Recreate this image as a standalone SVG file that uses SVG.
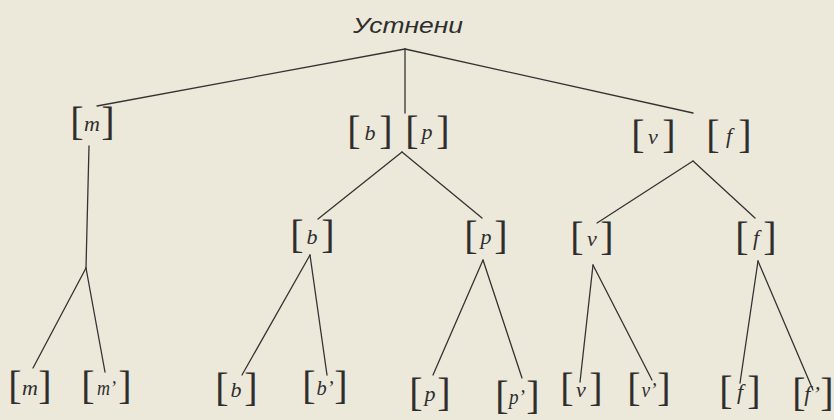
<svg xmlns="http://www.w3.org/2000/svg" width="834" height="420" viewBox="0 0 834 420">
<style>
.br{font-family:"Liberation Serif","Times New Roman",serif;font-size:40px;fill:#2e2e2e;text-anchor:middle}
.lt{font-family:"Liberation Serif","Times New Roman",serif;font-style:italic;font-size:22px;fill:#2e2e2e;text-anchor:middle}
.ti{font-family:"Liberation Sans",Arial,sans-serif;font-style:italic;font-size:22px;fill:#2e2e2e}
.cn line{stroke:#333;stroke-width:1.3;stroke-linecap:round}
</style>
<rect width="834" height="420" fill="#ece8da"/>
<g id="connectors" class="cn">
<line x1="405" y1="49" x2="97" y2="106"/>
<line x1="405" y1="49" x2="405" y2="113"/>
<line x1="405" y1="49" x2="693" y2="113"/>
<line x1="89" y1="146" x2="86" y2="268"/>
<line x1="86" y1="268" x2="33" y2="368"/>
<line x1="86" y1="268" x2="105" y2="372"/>
<line x1="402" y1="152" x2="318" y2="219"/>
<line x1="402" y1="152" x2="482" y2="218"/>
<line x1="693" y1="161" x2="597" y2="223"/>
<line x1="693" y1="161" x2="755" y2="218"/>
<line x1="310" y1="255" x2="242" y2="375"/>
<line x1="310" y1="255" x2="327" y2="375"/>
<line x1="483" y1="260" x2="433" y2="375"/>
<line x1="483" y1="260" x2="522" y2="378"/>
<line x1="593" y1="265" x2="580" y2="382"/>
<line x1="593" y1="265" x2="652" y2="380"/>
<line x1="758" y1="261" x2="740" y2="383"/>
<line x1="758" y1="261" x2="813" y2="390"/>
</g>
<g id="root"><text class="ti" x="353" y="33" textLength="110" lengthAdjust="spacingAndGlyphs">Устнени</text></g>
<g id="n1-m"><text class="br" x="77" y="135">[</text><text class="br" x="108" y="135">]</text><text class="lt" x="92" y="131">m</text></g>
<g id="n1-b"><text class="br" x="354" y="144">[</text><text class="br" x="386" y="144">]</text><text class="lt" x="370" y="140">b</text></g>
<g id="n1-p"><text class="br" x="412" y="144">[</text><text class="br" x="443" y="144">]</text><text class="lt" x="427" y="139">p</text></g>
<g id="n1-v"><text class="br" x="638" y="148">[</text><text class="br" x="669" y="148">]</text><text class="lt" x="653" y="144">v</text></g>
<g id="n1-f"><text class="br" x="713" y="148">[</text><text class="br" x="745" y="148">]</text><text class="lt" x="729" y="143">f</text></g>
<g id="n2-b"><text class="br" x="297" y="248">[</text><text class="br" x="328" y="248">]</text><text class="lt" x="312" y="244">b</text></g>
<g id="n2-p"><text class="br" x="471" y="249">[</text><text class="br" x="501" y="249">]</text><text class="lt" x="486" y="244">p</text></g>
<g id="n2-v"><text class="br" x="577" y="250">[</text><text class="br" x="607" y="250">]</text><text class="lt" x="592" y="246">v</text></g>
<g id="n2-f"><text class="br" x="742" y="250">[</text><text class="br" x="770" y="250">]</text><text class="lt" x="756" y="245">f</text></g>
<g id="n3-m"><text class="br" x="15" y="399">[</text><text class="br" x="45" y="399">]</text><text class="lt" x="30" y="395">m</text></g>
<g id="n3-m2"><text class="br" x="88" y="399">[</text><text class="br" x="125" y="399">]</text><text class="lt" x="106.5" y="395" textLength="19" lengthAdjust="spacingAndGlyphs">m’</text></g>
<g id="n3-b"><text class="br" x="222" y="401">[</text><text class="br" x="251" y="401">]</text><text class="lt" x="236" y="397">b</text></g>
<g id="n3-b2"><text class="br" x="309" y="399">[</text><text class="br" x="341" y="399">]</text><text class="lt" x="325" y="395" textLength="17" lengthAdjust="spacingAndGlyphs">b’</text></g>
<g id="n3-p"><text class="br" x="416" y="406">[</text><text class="br" x="444" y="406">]</text><text class="lt" x="430" y="401">p</text></g>
<g id="n3-p2"><text class="br" x="502" y="409">[</text><text class="br" x="533" y="409">]</text><text class="lt" x="517" y="404" textLength="16" lengthAdjust="spacingAndGlyphs">p’</text></g>
<g id="n3-v"><text class="br" x="567" y="401">[</text><text class="br" x="596" y="401">]</text><text class="lt" x="581" y="397">v</text></g>
<g id="n3-v2"><text class="br" x="634" y="401">[</text><text class="br" x="664" y="401">]</text><text class="lt" x="649" y="397" textLength="15" lengthAdjust="spacingAndGlyphs">v’</text></g>
<g id="n3-f"><text class="br" x="726" y="404">[</text><text class="br" x="754" y="404">]</text><text class="lt" x="740" y="399">f</text></g>
<g id="n3-f2"><text class="br" x="799" y="406">[</text><text class="br" x="827" y="406">]</text><text class="lt" x="812" y="401">f’</text></g>
</svg>
